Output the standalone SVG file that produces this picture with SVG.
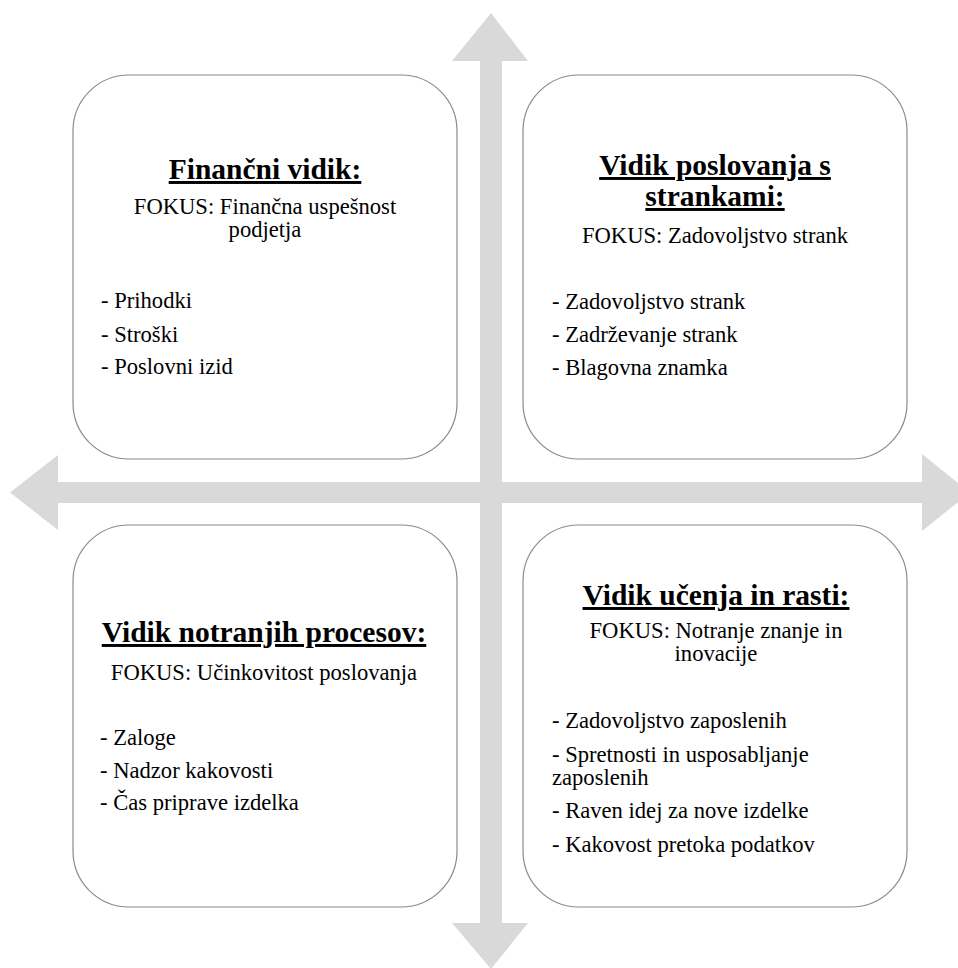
<svg xmlns="http://www.w3.org/2000/svg" width="958" height="968" viewBox="0 0 958 968">
  <style>
    .axis { fill: #d9d9d9; }
    .card { fill: #ffffff; stroke: #8a8a8a; stroke-width: 1.2; }
    .title { font-size: 29.5px; font-weight: bold; text-decoration: underline; text-anchor: middle; }
    .focus { font-size: 22.6px; text-anchor: middle; }
    .item { font-size: 22.6px; }
  </style>

  <!-- Axes: two double-headed block arrows crossing at the centre -->
  <g id="connectors">
    <path class="axis" d="M491,13 L528,61 L502,61 L502,923 L528,923 L491,969 L452,923 L480,923 L480,61 L452,61 Z"/>
    <path class="axis" d="M10,492.5 L58,455 L58,482 L922,482 L922,454 L970,492.5 L922,531 L922,503 L58,503 L58,530 Z"/>
  </g>

  <g font-family="'Liberation Serif', 'Times New Roman', 'DejaVu Serif', serif" fill="#000000">
    <!-- Top left quadrant -->
    <g id="financni-vidik">
      <rect class="card" x="73" y="75" width="384" height="384" rx="56" ry="56"/>
      <text class="title" x="265" y="179">Finančni vidik:</text>
      <text class="focus" x="265" y="214">FOKUS: Finančna uspešnost</text>
      <text class="focus" x="265" y="237">podjetja</text>
      <text class="item" x="101" y="308">- Prihodki</text>
      <text class="item" x="101" y="342">- Stroški</text>
      <text class="item" x="101" y="374">- Poslovni izid</text>
    </g>

    <!-- Top right quadrant -->
    <g id="vidik-strank">
      <rect class="card" x="523" y="75" width="384" height="384" rx="56" ry="56"/>
      <text class="title" x="715" y="175">Vidik poslovanja s</text>
      <text class="title" x="715" y="206">strankami:</text>
      <text class="focus" x="715" y="243">FOKUS: Zadovoljstvo strank</text>
      <text class="item" x="552" y="309">- Zadovoljstvo strank</text>
      <text class="item" x="552" y="342">- Zadrževanje strank</text>
      <text class="item" x="552" y="375">- Blagovna znamka</text>
    </g>

    <!-- Bottom left quadrant -->
    <g id="notranji-procesi">
      <rect class="card" x="73" y="525" width="384" height="382" rx="56" ry="56"/>
      <text class="title" x="264" y="642">Vidik notranjih procesov:</text>
      <text class="focus" x="264" y="680">FOKUS: Učinkovitost poslovanja</text>
      <text class="item" x="100" y="745">- Zaloge</text>
      <text class="item" x="100" y="778">- Nadzor kakovosti</text>
      <text class="item" x="100" y="810">- Čas priprave izdelka</text>
    </g>

    <!-- Bottom right quadrant -->
    <g id="ucenje-rast">
      <rect class="card" x="523" y="525" width="384" height="382" rx="56" ry="56"/>
      <text class="title" x="716" y="605">Vidik učenja in rasti:</text>
      <text class="focus" x="716" y="638">FOKUS: Notranje znanje in</text>
      <text class="focus" x="716" y="661">inovacije</text>
      <text class="item" x="552" y="728">- Zadovoljstvo zaposlenih</text>
      <text class="item" x="552" y="762">- Spretnosti in usposabljanje</text>
      <text class="item" x="552" y="785">zaposlenih</text>
      <text class="item" x="552" y="818">- Raven idej za nove izdelke</text>
      <text class="item" x="552" y="852">- Kakovost pretoka podatkov</text>
    </g>
  </g>
</svg>
